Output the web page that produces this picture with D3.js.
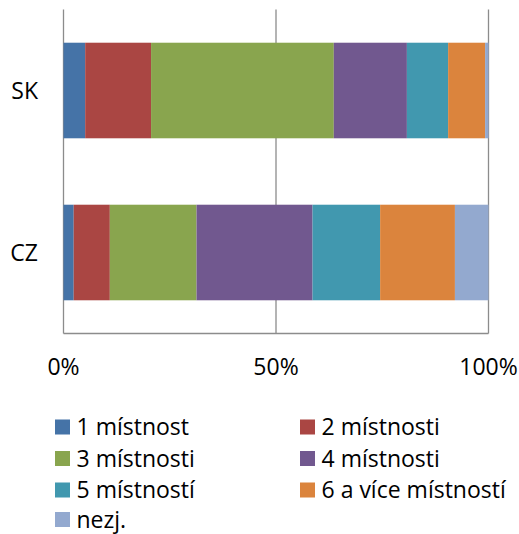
<!DOCTYPE html>
<html>
<head>
<meta charset="utf-8">
<script src="https://cdn.jsdelivr.net/npm/d3@7"></script>
<style>
  html, body { margin: 0; padding: 0; background: #fff; }
  svg text { font-family: "Open Sans", "Liberation Sans", sans-serif; fill: #000; }
</style>
</head>
<body>
<svg id="chart" width="519" height="534"></svg>
<script>
const categories = ["SK", "CZ"];
const seriesNames = ["1 místnost", "2 místnosti", "3 místnosti", "4 místnosti", "5 místností", "6 a více místností", "nezj."];
const valuesSK = [5.1, 15.5, 43.0, 17.2, 9.7, 8.7, 0.8];
const valuesCZ = [2.4, 8.5, 20.4, 27.3, 15.9, 17.6, 7.9];
const colors = ["#4573A7", "#AA4643", "#89A54E", "#71588F", "#4198AF", "#DB843D", "#93A9CF"];
const tickValues = [0, 50, 100];
const tickLabels = ["0%", "50%", "100%"];

const svg = d3.select("#chart");
const plotLeft = 63.5, plotRight = 488.5, plotTop = 9.5, plotBottom = 333.5;

const x = d3.scaleLinear().domain([0, 100]).range([plotLeft, plotRight]);
const y = d3.scaleBand().domain(categories).range([plotTop, plotBottom]).paddingInner(0.41).paddingOuter(0.205);
const color = d3.scaleOrdinal().domain(seriesNames).range(colors);

const valuesByCat = { SK: valuesSK, CZ: valuesCZ };
const rows = categories.map(c => {
  const o = { cat: c };
  seriesNames.forEach((s, i) => { o[s] = valuesByCat[c][i]; });
  return o;
});
const stacked = d3.stack().keys(seriesNames)(rows);

// gridlines
svg.append("g").selectAll("line").data(tickValues).join("line")
  .attr("x1", d => x(d)).attr("x2", d => x(d))
  .attr("y1", plotTop).attr("y2", plotBottom)
  .attr("stroke", "#8c8c8c").attr("stroke-width", 1.3);

// bars
svg.append("g").selectAll("g").data(stacked).join("g")
  .attr("fill", d => color(d.key))
  .selectAll("rect").data(d => d).join("rect")
  .attr("x", d => x(d[0]))
  .attr("width", d => x(d[1]) - x(d[0]))
  .attr("y", d => y(d.data.cat))
  .attr("height", y.bandwidth());

// bottom axis line
svg.append("line")
  .attr("x1", x(0)).attr("x2", x(100))
  .attr("y1", plotBottom).attr("y2", plotBottom)
  .attr("stroke", "#8c8c8c").attr("stroke-width", 1.3);

// x tick labels
svg.append("g").selectAll("text").data(tickValues).join("text")
  .attr("x", d => x(d)).attr("y", 375)
  .attr("text-anchor", "middle")
  .attr("font-size", 23)
  .text((d, i) => tickLabels[i]);

// y labels
svg.append("g").selectAll("text").data(categories).join("text")
  .attr("x", 38).attr("y", d => y(d) + y.bandwidth() / 2 + 8)
  .attr("text-anchor", "end")
  .attr("font-size", 23)
  .text(d => d);

// legend
const legX = [55, 300];
const legY = [427, 458.5, 490, 519.5];
const leg = svg.append("g").selectAll("g").data(seriesNames).join("g")
  .attr("transform", (d, i) => `translate(${legX[i % 2]},${legY[Math.floor(i / 2)]})`);
leg.append("rect").attr("x", 0).attr("y", -7.5).attr("width", 15).attr("height", 15)
  .attr("fill", d => color(d));
leg.append("text").attr("x", 21.5).attr("y", 8.2).attr("font-size", 23).text(d => d);
</script>
</body>
</html>
